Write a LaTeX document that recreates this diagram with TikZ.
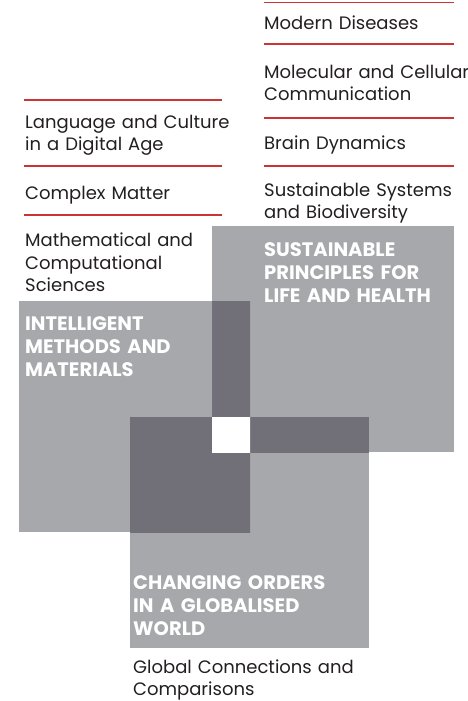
\documentclass[tikz,border=0pt]{standalone}
\usepackage{fontspec}
\setmainfont{Poppins}

\definecolor{boxgray}{RGB}{167,168,172}
\definecolor{overgray}{RGB}{113,112,121}
\definecolor{rulered}{RGB}{204,51,51}
\definecolor{ink}{RGB}{35,31,32}

\begin{document}
\begin{tikzpicture}[x=1pt,y=-1pt,
  topic/.style={anchor=base west,inner sep=0pt,text width=260pt,align=left,
    text=ink,font=\fontsize{18}{22.5}\selectfont},
  area/.style={anchor=base west,inner sep=0pt,text width=260pt,align=left,
    text=white,font=\bfseries\fontsize{19.5}{23}\selectfont},
  rule/.style={draw=rulered,line width=1.5pt}]
\useasboundingbox (0,0) rectangle (467,701);

% the three fields
\def\fieldL{(19,301) rectangle (250,532)}
\def\fieldS{(212,226) rectangle (454,452)}
\def\fieldC{(130,417) rectangle (369,648)}
\fill[boxgray] \fieldL;
\fill[boxgray] \fieldS;
\fill[boxgray] \fieldC;

% overlaps
\begin{scope}
  \clip \fieldL;
  \fill[overgray] \fieldS;
  \fill[overgray] \fieldC;
\end{scope}
\begin{scope}
  \clip \fieldS;
  \fill[overgray] \fieldC;
\end{scope}
\begin{scope}
  \clip \fieldL;
  \clip \fieldS;
  \fill[white] \fieldC;
\end{scope}

% red rules, right column
\coordinate (r0) at (264,2.7);
\coordinate (r1) at (264,44);
\coordinate (r2) at (264,118);
\coordinate (r3) at (264,166);
\foreach \r in {r0,r1,r2,r3}
  \draw[rule] (\r) -- ++(190,0);

% red rules, left column
\coordinate (l0) at (24,100);
\coordinate (l1) at (24,166);
\coordinate (l2) at (24,215);
\foreach \l in {l0,l1,l2}
  \draw[rule] (\l) -- ++(198,0);

% topics
\node[topic] (modern) at (264,30) {Modern Diseases};
\node[topic] (molec) at (264,78) {Molecular and Cellular\\Communication};
\node[topic] (brain) at (264,149) {Brain Dynamics};
\node[topic] (sustsys) at (264,196) {Sustainable Systems\\and Biodiversity};
\node[topic] (lang) at (25,128) {Language and Culture\\in a Digital Age};
\node[topic] (matter) at (25,199) {Complex Matter};
\node[topic] (math) at (25,246.5) {Mathematical and\\Computational\\Sciences};
\node[topic] (global) at (133,673) {Global Connections and\\Comparisons};

% field titles
\node[area] (sust) at (264,256) {SUSTAINABLE\\PRINCIPLES FOR\\LIFE AND HEALTH};
\node[area] (intel) at (25,330) {INTELLIGENT\\METHODS AND\\MATERIALS};
\node[area] (orders) at (133,589) {CHANGING ORDERS\\IN A GLOBALISED\\WORLD};
\end{tikzpicture}
\end{document}
